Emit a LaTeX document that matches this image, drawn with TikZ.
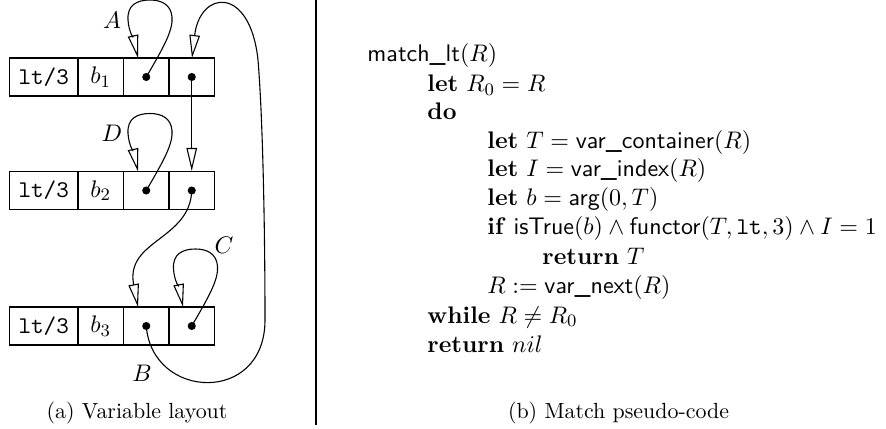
\documentclass[tikz,border=0pt]{standalone}
\usetikzlibrary{arrows.meta}
\begin{document}
\begin{tikzpicture}[x=0.4566pt,y=-0.4566pt,
  every node/.style={font=\fontsize{10.95}{13.6}\selectfont},
  cell/.style={draw,line width=0.5pt,inner sep=0pt,minimum height=17.35pt,minimum width=20.8pt},
  wide/.style={cell,minimum width=31.3pt},
  dot/.style={circle,fill=black,inner sep=0pt,minimum size=3.7pt},
  ptr/.style={line width=0.5pt,-{Triangle[open,length=10.5pt,width=4.8pt]}},
  lbl/.style={inner sep=0pt},
  code/.style={anchor=base west,inner sep=0pt},
  capt/.style={anchor=base,inner sep=0pt,font=\fontsize{10}{12}\selectfont}]
\useasboundingbox (0,0) rectangle (886,429);
% rows
\foreach \r/\y in {1/77,2/190.5,3/326}{
  \node[wide] (c\r1) at (43.75,\y) {\texttt{lt/3}};
  \node[cell] (c\r2) at (100.75,\y) {$b_{\r}$};
  \node[cell] (c\r3) at (146.25,\y) {};
  \node[cell] (c\r4) at (191.75,\y) {};
  \node[dot] (p\r3) at (c\r3.center) {};
  \node[dot] (p\r4) at (c\r4.center) {};
}
% arrow targets
\coordinate (tA) at (138,58);
\coordinate (tE) at (192,58);
\coordinate (tD) at (138,171.5);
\coordinate (tF) at (138,307);
\coordinate (tC) at (183,307);
% loops
\draw[ptr] (p13.center) .. controls (165,45) and (173,30) .. (172,17)
  .. controls (171,5) and (162,0) .. (150,0)
  .. controls (137,0) and (127,5) .. (128,20)
  .. controls (128.8,32) and (134,40) .. (tA);
\begin{scope}[yshift=-113.5*0.4566pt]
\draw[ptr] (p23.center) .. controls (165,45) and (173,30) .. (172,17)
  .. controls (171,5) and (162,0) .. (150,0)
  .. controls (137,0) and (127,5) .. (128,20)
  .. controls (128.8,32) and (134,40) .. (tD);
\end{scope}
\begin{scope}[xshift=45.5*0.4566pt,yshift=-249*0.4566pt]
\draw[ptr] (p34.center) .. controls (165,45) and (173,30) .. (172,17)
  .. controls (171,5) and (162,0) .. (150,0)
  .. controls (137,0) and (127,5) .. (128,20)
  .. controls (128.8,32) and (134,40) .. (tC);
\end{scope}
% straight down
\draw[ptr] (p14.center) -- (c24.north);
% s-curve
\draw[ptr] (p24.center) .. controls (190,240) and (125,240) .. (tF);
% long return
\draw[ptr] (p33.center) .. controls (152,400) and (265,405) .. (265,320)
  .. controls (265,235) and (263,120) .. (258,60)
  .. controls (250,-15) and (200,-10) .. (tE);
% labels
\node[lbl] (lA) at (112,20) {$A$};
\node[lbl] (lD) at (112,133) {$D$};
\node[lbl] (lC) at (224,245) {$C$};
\node[lbl] (lB) at (142,373) {$B$};
% separator
\coordinate (s1) at (316,0);
\coordinate (s2) at (316,425);
\draw[line width=0.6pt] (s1) -- (s2);
% captions
\node[capt] (ca) at (137,418) {(a) Variable layout};
\node[capt] (cb) at (618.5,418) {(b) Match pseudo-code};
% pseudo-code
\node[code] (k1) at (367,62) {\textsf{match\_lt}$(R)$};
\node[code] (k2) at (427,92) {\textbf{let} $R_0 = R$};
\node[code] (k3) at (427,119) {\textbf{do}};
\node[code] (k4) at (487,148) {\textbf{let} $T = \textsf{var\_container}(R)$};
\node[code] (k5) at (487,177) {\textbf{let} $I = \textsf{var\_index}(R)$};
\node[code] (k6) at (487,206) {\textbf{let} $b = \textsf{arg}(0, T)$};
\node[code] (k7) at (487,235) {\textbf{if} $\textsf{isTrue}(b) \wedge \textsf{functor}(T, \texttt{lt}, 3) \wedge I = 1$};
\node[code] (k8) at (542,264) {\textbf{return} $T$};
\node[code] (k9) at (487,293) {$R := \textsf{var\_next}(R)$};
\node[code] (k10) at (427,323) {\textbf{while} $R \neq R_0$};
\node[code] (k11) at (427,352) {\textbf{return} $nil$};
\end{tikzpicture}
\end{document}
